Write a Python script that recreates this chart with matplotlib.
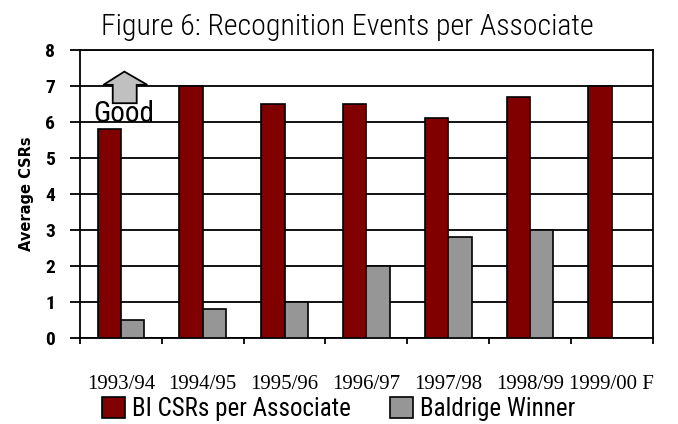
import matplotlib
matplotlib.use("Agg")
import matplotlib.pyplot as plt
from matplotlib.patches import Polygon
import numpy as np

# data
years = ['1993/94', '1994/95', '1995/96', '1996/97', '1997/98', '1998/99', '1999/00 F']
bi_csrs = [5.8, 7.0, 6.5, 6.5, 6.1, 6.7, 7.0]
baldrige = [0.5, 0.8, 1.0, 2.0, 2.8, 3.0, np.nan]

red = '#800000'
gray = '#969696'
narrow = ['Roboto Condensed', 'DejaVu Sans']

fig = plt.figure(figsize=(6.78, 4.24), dpi=100)
ax = fig.add_axes([0.118, 0.204, 0.8447, 0.678])

x = np.arange(len(years))
w = 0.286
b1 = ax.bar(x - w / 2, bi_csrs, w, color=red, edgecolor='black', linewidth=1.2,
            label='BI CSRs per Associate', zorder=3)
b2 = ax.bar(x + w / 2, baldrige, w, color=gray, edgecolor='black', linewidth=1.2,
            label='Baldrige Winner', zorder=3)

ax.set_xlim(-0.5, len(years) - 0.5)
ax.set_ylim(0, 8)

# gridlines and frame
ax.set_yticks(range(0, 9))
ax.yaxis.grid(True, color='black', linewidth=1.3, zorder=1)
for s in ax.spines.values():
    s.set_linewidth(1.3)
ax.tick_params(axis='y', direction='out', length=7, width=1.3, pad=11)
for lbl in ax.get_yticklabels():
    lbl.set_family(narrow)
    lbl.set_fontweight('bold')
    lbl.set_fontsize(14)

# x ticks at category boundaries, labels at centres
ax.set_xticks(np.arange(-0.5, len(years)))
ax.set_xticklabels([])
ax.tick_params(axis='x', which='major', direction='out', length=4.5, width=1.3)
ax.set_xticks(x, minor=True)
ax.set_xticklabels(years, minor=True, family='Liberation Serif', fontsize=15)
ax.tick_params(axis='x', which='minor', length=0, pad=27)

ax.set_ylabel('Average CSRs', family='DejaVu Sans', fontsize=10.5, fontweight='bold', labelpad=8)

# "Good" arrow annotation
arrow = Polygon([(0.042, 7.40), (0.323, 7.03), (0.193, 7.03), (0.193, 6.52),
                 (-0.10, 6.52), (-0.10, 7.03), (-0.215, 7.03)],
                closed=True, facecolor='#c0c0c0', edgecolor='black', linewidth=1.3, zorder=4)
ax.add_patch(arrow)
ax.text(-0.34, 6.01, 'Good', family=narrow, fontsize=21, ha='left', va='baseline', zorder=5)

fig.text(0.512, 1 - 35 / 424, 'Figure 6: Recognition Events per Associate',
         family=narrow, fontsize=21.5, fontweight='light', ha='center', va='baseline')

# legend entries placed separately, as in the original layout
for bar, xpos in [(b1, 102 / 678), (b2, 390 / 678)]:
    fig.legend(handles=[bar], loc='center left', bbox_to_anchor=(xpos, 0.035),
               frameon=False, prop={'family': narrow, 'size': 18},
               borderpad=0, borderaxespad=0,
               handlelength=0.9, handleheight=0.9, handletextpad=0.3)

fig.savefig('out.png', dpi=100)
